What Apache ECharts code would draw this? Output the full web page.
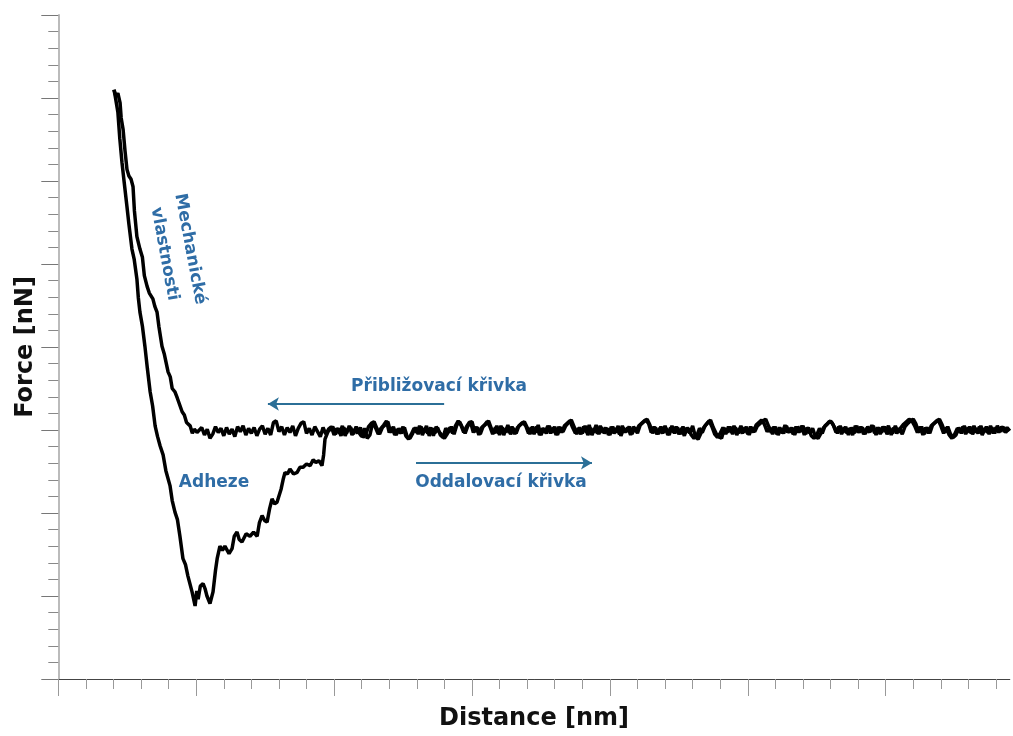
<!DOCTYPE html>
<html>
<head>
<meta charset="utf-8">
<script src="https://cdn.jsdelivr.net/npm/echarts@6.0.0/dist/echarts.min.js"></script>
<style>
html,body{margin:0;padding:0;background:#fff;}
#c{width:1013px;height:736px;}
</style>
</head>
<body>
<div id="c"></div>
<script>
// ---- data (x: distance units, y: force units) ----
var approachSteep = [[20.2,41.0],[20.9,40.2],[21.6,40.6],[22.4,39.4],[22.8,37.6],[23.5,36.2],[24.2,33.6],[24.9,31.4],[25.6,30.6],[26.4,30.2],[27.1,29.3],[27.6,26.4],[28.5,23.3],[29.6,21.8],[30.5,20.8],[31.2,18.6],[32.2,17.3],[33.0,16.5],[34.3,15.8],[35.0,14.9],[35.8,14.2],[36.5,12.4],[37.6,10.1],[38.4,9.2],[39.8,7.0],[40.6,6.4],[41.3,5.0],[42.3,4.6],[43.2,3.8],[44.9,2.2],[45.7,1.8],[46.5,0.9],[47.8,0.5],[48.6,-0.4],[49.3,0.1],[50.3,-0.3]];
var approachFlatX = [51,52,53,54,55,56,57,58,59,60,61,62,63,64,65,66,67,68,69,70,71,72,73,74,75,76,77,78,79,80,81,82,83,84,85,86,87,88,89,90,91,92,93,94,95,96,97,98,99,100,
101,102,103,104,105,106,107,108,109,110,111,112,113,114,115,116,117,118,119,120,121,122,123,124,125,126,127,128,129,130,131,132,133,134,135,136,137,138,139,140,141,142,143,144,145,146,147,148,149,150,
151,152,153,154,155,156,157,158,159,160,161,162,163,164,165,166,167,168,169,170,171,172,173,174,175,176,177,178,179,180,181,182,183,184,185,186,187,188,189,190,191,192,193,194,195,196,197,198,199,200,
201,202,203,204,205,206,207,208,209,210,211,212,213,214,215,216,217,218,219,220,221,222,223,224,225,226,227,228,229,230,231,232,233,234,235,236,237,238,239,240,241,242,243,244,245,246,247,248,249,250,
251,252,253,254,255,256,257,258,259,260,261,262,263,264,265,266,267,268,269,270,271,272,273,274,275,276,277,278,279,280,281,282,283,284,285,286,287,288,289,290,291,292,293,294,295,296,297,298,299,300,
301,302,303,304,305,306,307,308,309,310,311,312,313,314,315,316,317,318,319,320,321,322,323,324,325,326,327,328,329,330,331,332,333,334,335,336,337,338,339,340,341,342,343,344,345];
var approachFlatY = [-0.4,0.3,-0.6,0.1,-1.0,-0.5,0.4,-0.3,0.2,-0.7,
 0.3,-0.5,0.1,-0.8,0.4,-0.2,0.5,-0.6,0.2,-0.4,
 0.3,-0.7,0.1,0.5,-0.5,0.2,-0.6,0.9,1.1,-0.2,
 0.4,-0.6,0.3,-0.3,0.5,-0.7,0.2,0.8,1.0,-0.4,
 0.2,-0.6,0.4,-0.2,-0.8,0.3,-0.5,0.1,0.4,-0.6,
 0.2,-0.4,0.5,-0.7,0.1,0.3,-0.5,0.4,-0.3,-0.8,
 0.2,-1.0,-0.6,0.9,0.3,-0.5,0.2,0.6,1.1,-0.3,
 0.3,-0.6,0.1,-0.4,0.4,-0.7,-1.1,-0.5,0.2,-0.3,
 0.5,-0.6,0.2,-0.4,0.3,-0.7,0.4,-0.2,-0.6,-1.0,
 -0.5,0.3,-0.4,0.5,1.1,0.6,-0.3,0.4,0.9,1.0,
 -0.2,0.3,-0.5,0.4,0.7,1.1,0.2,-0.4,0.5,-0.6,
 0.3,-0.3,0.6,-0.5,0.2,-0.4,0.5,0.8,1.0,0.3,
 -0.5,0.4,-0.3,0.6,-0.6,0.2,-0.4,0.5,-0.3,0.4,
 -0.6,0.3,-0.2,0.5,0.9,1.2,0.4,-0.5,0.3,-0.4,
 0.5,-0.6,0.2,-0.3,0.6,-0.5,0.3,-0.4,0.2,-0.6,
 0.4,-0.3,0.5,-0.7,0.2,-0.2,0.4,-0.5,0.3,-0.4,
 0.6,0.9,1.2,0.8,-0.3,0.4,-0.5,0.2,-0.4,0.5,
 -0.6,0.3,-0.3,0.4,-0.5,0.2,-0.7,0.3,-0.4,0.5,
 -0.8,-1.1,-0.4,0.3,0.7,1.1,0.4,-0.5,-0.9,-0.4,
 0.3,-0.5,0.4,-0.3,0.5,-0.6,0.2,-0.4,0.3,-0.5,
 0.4,-0.3,0.6,0.9,1.2,0.7,-0.2,0.3,-0.5,0.4,
 -0.6,0.2,-0.4,0.5,-0.3,0.3,-0.6,0.4,-0.2,0.5,
 -0.5,0.3,-0.7,-1.0,-0.6,0.2,-0.4,0.5,0.8,1.1,
 0.6,-0.3,0.4,-0.5,0.3,-0.4,0.2,-0.6,0.5,-0.3,
 0.4,-0.5,0.2,-0.3,0.6,-0.4,0.3,-0.5,0.4,-0.2,
 0.5,-0.6,0.3,-0.4,0.2,-0.5,0.4,0.8,1.1,1.3,
 0.7,-0.3,0.4,-0.5,0.3,-0.4,0.6,0.9,1.2,0.5,
 -0.4,0.3,-0.6,-1.0,-0.5,0.2,-0.3,0.4,-0.5,0.3,
 -0.4,0.5,-0.3,0.4,-0.6,0.2,-0.3,0.5,-0.4,0.3,
 -0.3,0.4,-0.2,0.3,-0.1];
var retractSteep = [[20.2,41.0],[20.7,40.1],[21.6,38.3],[22.3,35.1],[23.1,32.2],[23.7,30.4],[24.9,26.9],[25.6,24.8],[26.7,21.8],[27.5,20.6],[28.5,18.2],[29.0,16.0],[29.6,14.2],[30.5,12.5],[31.4,10.1],[32.3,7.4],[33.3,4.6],[34.2,2.9],[35.1,0.5],[36.0,-0.8],[36.9,-1.9],[38.0,-3.0],[39.0,-4.9],[40.5,-6.7],[41.3,-8.5],[42.3,-9.9],[43.2,-10.8],[44.1,-12.8],[45.2,-15.5],[46.1,-16.2],[47.0,-17.6],[48.5,-19.5],[49.6,-21.2],[50.2,-19.4],[50.7,-20.4],[51.5,-18.8],[52.5,-18.5],[53.2,-19.1],[53.9,-20.0],[55.0,-20.9],[56.1,-19.5],[57.0,-16.9],[57.6,-15.5],[58.6,-14.0],[59.5,-14.5],[60.4,-14.0],[61.9,-14.9],[63.0,-14.3],[63.8,-12.8],[64.8,-12.3],[65.6,-13.2],[66.6,-13.5],[68.1,-12.5],[69.5,-12.8],[70.8,-12.3],[72.1,-12.8],[72.9,-11.2],[73.9,-10.3],[74.8,-10.9],[75.7,-11.1],[76.6,-9.5],[77.5,-8.3],[78.4,-8.9],[79.3,-8.7],[80.8,-7.1],[81.5,-6.0],[82.2,-5.1],[83.1,-5.3],[84.0,-4.7],[85.3,-5.3],[86.6,-5.1],[87.6,-4.5],[88.7,-4.5],[90.0,-4.1],[91.3,-4.3],[92.4,-3.6],[93.4,-3.9],[94.5,-3.7],[95.6,-4.3],[96.2,-3.0],[96.7,-1.1],[97.8,-0.2]];
var retractFlatX = [98.5,99.5,100.5,101.5,102.5,103.5,104.5,105.5,106.5,107.5,108.5,109.5,110.5,111.5,112.5,113.5,114.5,115.5,116.5,117.5,118.5,119.5,120.5,121.5,122.5,123.5,124.5,125.5,126.5,127.5,128.5,129.5,130.5,131.5,132.5,133.5,134.5,135.5,136.5,137.5,138.5,139.5,140.5,141.5,142.5,143.5,144.5,145.5,146.5,147.5,
148.5,149.5,150.5,151.5,152.5,153.5,154.5,155.5,156.5,157.5,158.5,159.5,160.5,161.5,162.5,163.5,164.5,165.5,166.5,167.5,168.5,169.5,170.5,171.5,172.5,173.5,174.5,175.5,176.5,177.5,178.5,179.5,180.5,181.5,182.5,183.5,184.5,185.5,186.5,187.5,188.5,189.5,190.5,191.5,192.5,193.5,194.5,195.5,196.5,197.5,
198.5,199.5,200.5,201.5,202.5,203.5,204.5,205.5,206.5,207.5,208.5,209.5,210.5,211.5,212.5,213.5,214.5,215.5,216.5,217.5,218.5,219.5,220.5,221.5,222.5,223.5,224.5,225.5,226.5,227.5,228.5,229.5,230.5,231.5,232.5,233.5,234.5,235.5,236.5,237.5,238.5,239.5,240.5,241.5,242.5,243.5,244.5,245.5,246.5,247.5,
248.5,249.5,250.5,251.5,252.5,253.5,254.5,255.5,256.5,257.5,258.5,259.5,260.5,261.5,262.5,263.5,264.5,265.5,266.5,267.5,268.5,269.5,270.5,271.5,272.5,273.5,274.5,275.5,276.5,277.5,278.5,279.5,280.5,281.5,282.5,283.5,284.5,285.5,286.5,287.5,288.5,289.5,290.5,291.5,292.5,293.5,294.5,295.5,296.5,297.5,
298.5,299.5,300.5,301.5,302.5,303.5,304.5,305.5,306.5,307.5,308.5,309.5,310.5,311.5,312.5,313.5,314.5,315.5,316.5,317.5,318.5,319.5,320.5,321.5,322.5,323.5,324.5,325.5,326.5,327.5,328.5,329.5,330.5,331.5,332.5,333.5,334.5,335.5,336.5,337.5,338.5,339.5,340.5,341.5,342.5,343.5,344.5];
var retractFlatY = [-0.3,0.4,-0.5,0.2,-0.7,0.3,-0.4,0.5,-0.6,0.1,
 -0.4,0.3,-0.9,-0.5,0.4,0.8,1.0,0.2,-0.5,0.3,
 0.6,1.0,-0.3,0.4,-0.6,0.2,-0.4,0.3,-0.8,-1.0,
 -0.4,0.3,-0.5,0.4,-0.3,0.5,-0.7,0.2,-0.4,0.3,
 -0.6,-0.9,0.2,-0.3,0.4,-0.5,0.6,1.0,0.3,-0.4,
 0.5,0.9,-0.3,0.4,-0.6,0.3,0.6,1.0,0.4,-0.5,
 0.3,-0.4,0.5,-0.6,0.2,-0.3,0.4,-0.5,0.3,0.6,
 0.9,0.5,-0.4,0.3,-0.5,0.4,-0.6,0.2,-0.3,0.5,
 -0.4,0.3,-0.6,0.4,-0.3,0.5,0.8,1.1,0.3,-0.4,
 0.2,-0.5,0.4,-0.3,0.6,-0.6,0.2,-0.4,0.5,-0.3,
 0.3,-0.6,0.4,-0.4,0.2,-0.5,0.5,-0.3,0.3,-0.6,
 0.4,-0.2,0.5,0.8,1.1,1.3,0.6,-0.4,0.3,-0.5,
 0.4,-0.3,0.2,-0.6,0.5,-0.4,0.3,-0.5,0.4,-0.3,
 0.2,-0.6,-1.0,-0.7,0.2,-0.3,0.5,0.9,1.2,0.3,
 -0.4,-0.8,-1.0,0.2,-0.3,0.4,-0.5,0.3,-0.4,0.5,
 -0.3,0.4,-0.6,0.3,-0.2,0.5,0.8,1.1,1.3,0.5,
 -0.3,0.4,-0.5,0.3,-0.4,0.6,-0.3,0.2,-0.5,0.4,
 -0.3,0.5,-0.6,0.3,-0.4,0.2,-0.8,-1.0,-0.4,0.3,
 0.6,1.0,0.9,0.3,-0.4,0.5,-0.3,0.4,-0.6,0.3,
 -0.4,0.5,-0.3,0.3,-0.5,0.4,-0.2,0.5,-0.6,0.3,
 -0.3,0.4,-0.5,0.2,-0.4,0.5,-0.3,0.3,0.7,1.0,
 1.3,1.1,0.5,-0.3,0.4,-0.6,0.3,-0.4,0.5,0.8,
 1.1,1.3,0.6,-0.3,0.4,-0.5,-0.9,-0.6,0.3,-0.4,
 0.5,-0.3,0.4,-0.5,0.2,-0.4,0.5,-0.3,0.4,-0.5,
 0.3,-0.4,0.5,-0.2,0.4,-0.3,0.1];
var xMajorTicks = [0,50,100,150,200,250,300];
var xMinorTicks = [0,10,20,30,40,50,60,70,80,90,100,110,120,130,140,150,160,170,180,190,200,210,220,230,240,250,260,270,280,290,300,310,320,330,340];
var approachArrow = [[139.9,3.13],[76.0,3.13]];
var retractArrow = [[129.7,-3.97],[193.5,-3.97]];

function pairs(xs, ys){ var o=[]; var n=Math.min(xs.length, ys.length); for(var i=0;i<n;i++){ o.push([xs[i], ys[i]]); } return o; }
var approachData = approachSteep.concat(pairs(approachFlatX, approachFlatY));
var retractData = retractSteep.concat(pairs(retractFlatX, retractFlatY));

var chart = echarts.init(document.getElementById('c'), null, {renderer:'canvas'});
var annoColor = '#2f6da6';
var arrowColor = '#2b6f97';
var annoFont = {fontFamily:'DejaVu Sans', fontWeight:'bold', fontSize:17, fill:annoColor};
function txt(t, x, y, rot){
  return {type:'text', x:x, y:y, rotation:rot||0, silent:true,
    style:Object.assign({text:t, align:'center', verticalAlign:'middle'}, annoFont)};
}
var option = {
  animation:false,
  backgroundColor:'#fff',
  grid:{left:58.3, top:15, width:951.5, bottom:56, containLabel:false},
  xAxis:[{
    type:'value', min:0, max:345, position:'bottom',
    name:'Distance [nm]', nameLocation:'middle', nameGap:28,
    nameTextStyle:{fontFamily:'DejaVu Sans', fontWeight:'bold', fontSize:24, color:'#111'},
    axisLine:{show:true, onZero:false, lineStyle:{color:'#444', width:1}},
    axisTick:{show:true, length:17, customValues:xMajorTicks, lineStyle:{color:'#999', width:1}},
    axisLabel:{show:false}, splitLine:{show:false}
  },{
    type:'value', min:0, max:345, position:'bottom',
    axisLine:{show:false, onZero:false},
    axisTick:{show:true, length:10, customValues:xMinorTicks, lineStyle:{color:'#999', width:1}},
    axisLabel:{show:false}, splitLine:{show:false}
  }],
  yAxis:{
    type:'value', min:-30, max:50, interval:10,
    name:'Force [nN]', nameLocation:'middle', nameGap:21,
    nameTextStyle:{fontFamily:'DejaVu Sans', fontWeight:'bold', fontSize:24, color:'#111'},
    axisLine:{show:true, onZero:false, lineStyle:{color:'#bbb', width:2}},
    axisTick:{show:true, length:17, lineStyle:{color:'#777', width:1}},
    minorTick:{show:true, splitNumber:5, length:10, lineStyle:{color:'#888', width:1}},
    axisLabel:{show:false}, splitLine:{show:false}, minorSplitLine:{show:false}
  },
  series:[{
    name:'Přibližovací křivka', type:'line', data:approachData, showSymbol:false, symbol:'none',
    lineStyle:{color:'#000', width:3.5}, z:3,
    markLine:{silent:true, symbol:['none','arrow'], symbolSize:[10,11],
      lineStyle:{color:arrowColor, width:2, type:'solid'}, label:{show:false},
      data:[[{coord:approachArrow[0]},{coord:approachArrow[1]}]]}
  },{
    name:'Oddalovací křivka', type:'line', data:retractData, showSymbol:false, symbol:'none',
    lineStyle:{color:'#000', width:3.5}, z:3,
    markLine:{silent:true, symbol:['none','arrow'], symbolSize:[10,11],
      lineStyle:{color:arrowColor, width:2, type:'solid'}, label:{show:false},
      data:[[{coord:retractArrow[0]},{coord:retractArrow[1]}]]}
  }],
  graphic:[
    txt('Přibližovací křivka', 439, 387),
    txt('Oddalovací křivka', 501, 483),
    txt('Adheze', 214, 483),
    txt('Mechanické', 190, 249, -79.4*Math.PI/180),
    txt('vlastnosti', 164.5, 254, -79.6*Math.PI/180)
  ]
};
chart.setOption(option);
</script>
</body>
</html>
